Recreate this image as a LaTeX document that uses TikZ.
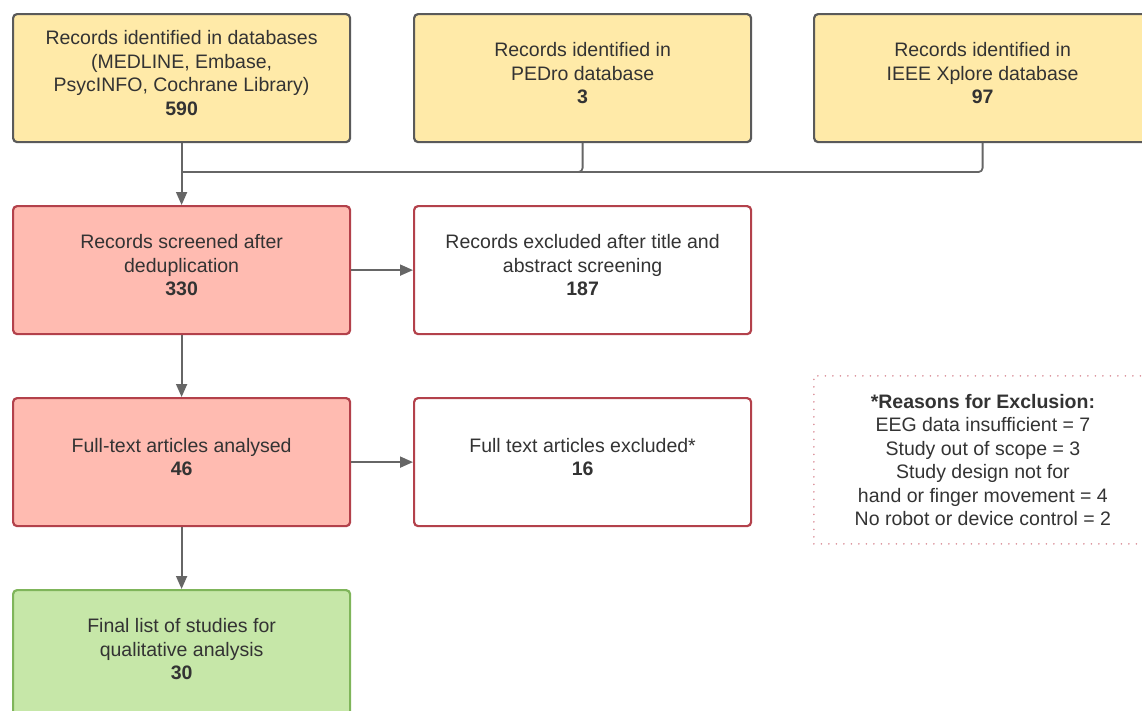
\documentclass[tikz,border=0pt]{standalone}
\usepackage{fontspec}
\setmainfont{Liberation Sans}
\usetikzlibrary{arrows.meta}
\definecolor{idfill}{HTML}{FFEAA8}
\definecolor{iddraw}{HTML}{5A5A5A}
\definecolor{scfill}{HTML}{FFBBB1}
\definecolor{scdraw}{HTML}{B3414B}
\definecolor{infill}{HTML}{C6E7A8}
\definecolor{indraw}{HTML}{7FB55A}
\definecolor{txt}{HTML}{333333}
\definecolor{linkgray}{HTML}{666666}
\definecolor{dotpink}{HTML}{D98C96}
\begin{document}
\begin{tikzpicture}[x=1pt, y=-1pt, line join=round, >={Triangle[length=13pt, width=11pt]},
	box/.style={draw, rounded corners=4pt, line width=2.2pt, minimum width=337pt, minimum height=128pt, text depth=10pt, anchor=north west, align=center, text=txt, font=\fontsize{19.5}{23.5}\selectfont},
	ident/.style={box, fill=idfill, draw=iddraw},
	screen/.style={box, fill=scfill, draw=scdraw},
	excl/.style={box, fill=white, draw=scdraw},
	incl/.style={box, fill=infill, draw=indraw},
	link/.style={draw=linkgray, line width=1.8pt}]
			\useasboundingbox (0,0) rectangle (1142,710);
			\clip (0,0) rectangle (1142,710);
			\def\cA{12}
			\def\cB{413}
			\def\cC{813}
			\def\rA{13}
			\def\rB{205}
			\def\rC{397}
			\def\rD{589}
			% identification
			\node[ident] (medline) at (\cA,\rA) {Records identified in databases\\(MEDLINE, Embase,\\PsycINFO, Cochrane Library)\\\textbf{590}};
			\node[ident] (pedro) at (\cB,\rA) {Records identified in\\PEDro database\\\textbf{3}};
			\node[ident] (ieee) at (\cC,\rA) {Records identified in\\IEEE Xplore database\\\textbf{97}};
			% screening
			\node[screen] (screened) at (\cA,\rB) {Records screened after\\deduplication\\\textbf{330}};
			\node[excl] (titleexcl) at (\cB,\rB) {Records excluded after title and\\abstract screening\\\textbf{187}};
			\node[screen] (fulltext) at (\cA,\rC) {Full-text articles analysed\\\textbf{46}};
			\node[excl] (textexcl) at (\cB,\rC) {Full text articles excluded*\\\textbf{16}};
			% included
			\node[incl] (final) at (\cA,\rD) {Final list of studies for\\qualitative analysis\\\textbf{30}};
			% reasons
			\node[anchor=north west, draw=dotpink, line width=1.8pt, line cap=round, dash pattern=on 0pt off 7.5pt, minimum width=338pt, minimum height=168pt, align=center, text=txt, font=\fontsize{19.5}{23.5}\selectfont] (reasons) at (\cC,375) {\textbf{*Reasons for Exclusion:}\\EEG data insufficient = 7\\Study out of scope = 3\\Study design not for\\hand or finger movement = 4\\No robot or device control = 2};
			
			\coordinate (joint) at (screened.north |- 0,172);
			\draw[link, rounded corners=4pt] (ieee.south) |- (joint);
			\draw[link, rounded corners=4pt] (pedro.south) |- (joint);
			\draw[link, ->] (medline.south) -- (screened.north);
			\draw[link, ->] (screened.east) -- (titleexcl.west);
			\draw[link, ->] (screened.south) -- (fulltext.north);
			\draw[link, ->] (fulltext.east) -- (textexcl.west);
			\draw[link, ->] (fulltext.south) -- (final.north);
		\end{tikzpicture}
\end{document}
